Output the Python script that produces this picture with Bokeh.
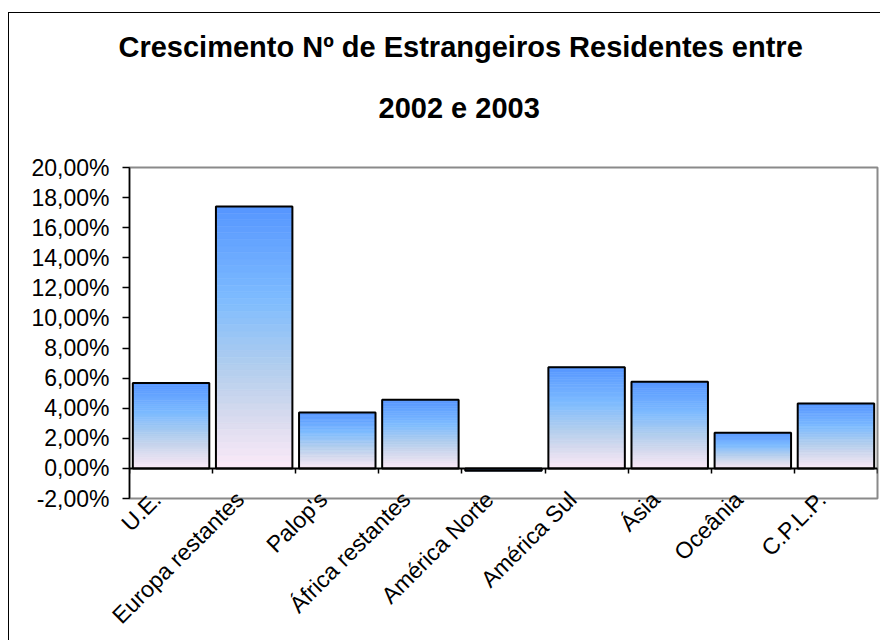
import math
from bokeh.plotting import figure
from bokeh.models import (FixedTicker, LinearAxis, Range1d, Title)
from bokeh.embed import file_html
from bokeh.resources import INLINE

# ---- data ----
categories = ["U.E.", "Europa restantes", "Palop's", "África restantes",
              "América Norte", "América Sul", "Ásia", "Oceânia", "C.P.L.P."]
growth = [0.0567, 0.1740, 0.0372, 0.0456, -0.0015, 0.0673, 0.0576, 0.0237, 0.0432]
y_ticks = [-0.02, 0.0, 0.02, 0.04, 0.06, 0.08, 0.10, 0.12, 0.14, 0.16, 0.18, 0.20]
y_tick_labels = ["-2,00%", "0,00%", "2,00%", "4,00%", "6,00%", "8,00%", "10,00%",
                 "12,00%", "14,00%", "16,00%", "18,00%", "20,00%"]
title_line1 = "Crescimento Nº de Estrangeiros Residentes entre"
title_line2 = "2002 e 2003"

FONT = "Liberation Sans"

p = figure(width=872, height=628, output_backend="svg", toolbar_location=None,
           x_range=Range1d(0, len(categories)), y_range=Range1d(-0.02, 0.20),
           x_axis_type=None, y_axis_type=None, title=None,
           min_border_left=120, min_border_right=4, min_border_top=154,
           min_border_bottom=143)
p.background_fill_color = "white"
p.border_fill_color = "white"
p.outline_line_color = "#8a8a8a"
p.outline_line_width = 2
# outer chart border (chart area frame, like the spreadsheet chart object)
p.styles = {"margin-left": "8px", "margin-top": "12px",
            "border-left": "1px solid #000", "border-top": "1px solid #000"}

# title: two lines, nearest-to-plot first
p.add_layout(Title(text=title_line2, align="left", offset=249,
                   text_font=FONT, text_font_size="29px", text_font_style="bold",
                   text_color="black", standoff=88), "above")
p.add_layout(Title(text=title_line1, align="left", offset=-11,
                   text_font=FONT, text_font_size="29px", text_font_style="bold",
                   text_color="black", standoff=-35), "above")

# y axis
yax = LinearAxis(ticker=FixedTicker(ticks=y_ticks),
                 major_label_overrides={t: l for t, l in zip(y_ticks, y_tick_labels)},
                 major_label_text_font=FONT, major_label_text_font_size="23px",
                 major_label_text_color="black",
                 major_tick_out=7, major_tick_in=0, minor_tick_out=0, minor_tick_in=0,
                 major_label_standoff=13, axis_line_color="black", axis_line_width=1.5,
                 major_tick_line_color="black", major_tick_line_width=1.5)
p.add_layout(yax, "left")
p.ygrid.ticker = FixedTicker(ticks=y_ticks)
p.ygrid.grid_line_color = "#1e1e1e"
p.ygrid.grid_line_width = 1
p.xgrid.visible = False

# gradient bars (strips coloured from blue on top to pink at the base)
stops = [(0.0, (86, 150, 255)), (0.35, (125, 187, 255)), (0.6, (175, 205, 238)),
         (0.8, (215, 218, 238)), (1.0, (252, 234, 248))]


def grad(t):
    for (t0, c0), (t1, c1) in zip(stops[:-1], stops[1:]):
        if t <= t1:
            f = (t - t0) / (t1 - t0)
            return "#%02x%02x%02x" % tuple(int(round(a + (b - a) * f)) for a, b in zip(c0, c1))
    return "#%02x%02x%02x" % stops[-1][1]


N = 40
bar_w = 0.92
xs = [i + 0.5 for i in range(len(categories))]
L, R, B, T, C = [], [], [], [], []
for x, v in zip(xs, growth):
    for k in range(N):
        L.append(x - bar_w / 2)
        R.append(x + bar_w / 2)
        B.append(v * k / N)
        T.append(v * (k + 1) / N)
        C.append(grad(1 - (k + 0.5) / N))
p.quad(left=L, right=R, bottom=B, top=T, fill_color=C, line_color=C, line_width=0.6)
p.vbar(x=xs, top=growth, bottom=0, width=bar_w, fill_color=None,
       line_color="black", line_width=2)

# category axis line at zero with ticks between categories
zax = LinearAxis(fixed_location=0, ticker=FixedTicker(ticks=list(range(len(categories) + 1))),
                 major_label_text_color=None, major_tick_out=5, major_tick_in=0,
                 minor_tick_out=0, minor_tick_in=0, axis_line_color="black",
                 axis_line_width=2, major_tick_line_color="black", major_tick_line_width=1.5)
p.add_layout(zax, "below")

# category labels, rotated 45 degrees below the plot area
# (anchored slightly left of each category centre, like the spreadsheet's rotated labels)
label_shift = 0.17
label_pos = [x - label_shift for x in xs]
cax = LinearAxis(ticker=FixedTicker(ticks=label_pos),
                 major_label_overrides={x: c for x, c in zip(label_pos, categories)},
                 major_label_orientation=math.pi / 4,
                 major_label_text_font=FONT, major_label_text_font_size="23px",
                 major_label_text_color="black", major_label_standoff=-3,
                 major_tick_out=0, major_tick_in=0, minor_tick_out=0, minor_tick_in=0,
                 axis_line_color=None, major_tick_line_color=None)
p.add_layout(cax, "below")

open("out.html", "w").write(file_html(p, INLINE))
